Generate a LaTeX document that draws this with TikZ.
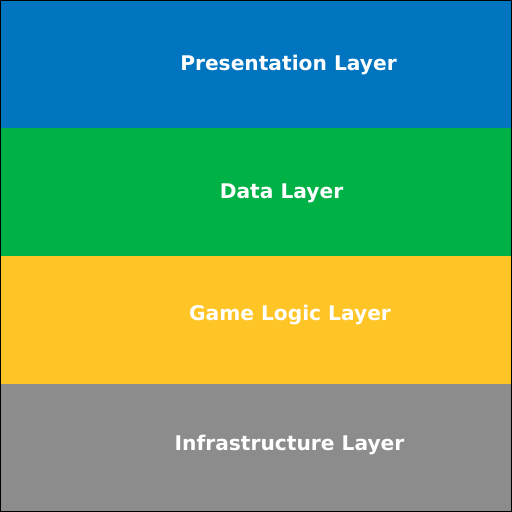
\documentclass[tikz,border=0pt]{standalone}
\usepackage{fontspec}
\setmainfont{DejaVu Sans}
\begin{document}
\begin{tikzpicture}[x=1bp,y=-1bp,
  band/.style={draw=none,inner sep=0pt,outer sep=0pt},
  lbl/.style={text=white,font=\fontsize{20.2bp}{24bp}\selectfont\bfseries,inner sep=0pt,anchor=center}]
\definecolor{cblue}{HTML}{0074BF}
\definecolor{cgreen}{HTML}{00B246}
\definecolor{cyellow}{HTML}{FFC425}
\definecolor{cgray}{HTML}{8C8C8C}
\useasboundingbox (0,0) rectangle (512,512);
\fill[cblue] (0,0) rectangle (512,128);
\fill[cgreen] (0,128) rectangle (512,256);
\fill[cyellow] (0,256) rectangle (512,384);
\fill[cgray] (0,384) rectangle (512,512);
\draw[black,line width=1.2bp] (0.6,0.6) rectangle (511.4,511.4);
\node[lbl] (p) at (288.5,65) {Presentation Layer};
\node[lbl] (d) at (281.5,193) {Data Layer};
\node[lbl] (g) at (290,315) {Game Logic Layer};
\node[lbl] (i) at (289.5,445) {Infrastructure Layer};
\end{tikzpicture}
\end{document}
